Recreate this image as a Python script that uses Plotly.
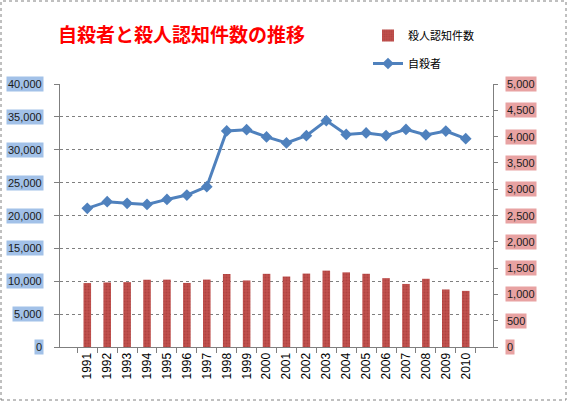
import plotly.graph_objects as go

# ---- data ------------------------------------------------------------
YEARS = [str(y) for y in range(1991, 2011)]
SUICIDES = [21084, 22104, 21851, 21679, 22445, 23104, 24391, 32863, 33048, 31957,
            31042, 32143, 34427, 32325, 32552, 32155, 33093, 32249, 32845, 31690]
HOMICIDES = [1215, 1227, 1233, 1279, 1281, 1218, 1282, 1388, 1265, 1391,
             1340, 1396, 1452, 1419, 1392, 1309, 1199, 1297, 1094, 1067]
LEFT_TICKS = [0, 5000, 10000, 15000, 20000, 25000, 30000, 35000, 40000]
RIGHT_TICKS = [0, 500, 1000, 1500, 2000, 2500, 3000, 3500, 4000, 4500, 5000]

TITLE = "自殺者と殺人認知件数の推移"
BAR_NAME = "殺人認知件数"
LINE_NAME = "自殺者"

# ---- style -----------------------------------------------------------
BAR_RED = "#C0504D"
LINE_BLUE = "#4F81BD"
GRID = "#7F7F7F"
LEFT_BG = "#A2C1E8"
RIGHT_BG = "#E8A2A2"
NUM_FONT = "Liberation Sans"
JP_FONT = "Noto Sans CJK JP"

W, H = 568, 402
L, R, T, B = 60, 75, 84, 55
PW, PH = W - L - R, H - T - B

fig = go.Figure()

fig.add_trace(go.Bar(
    x=YEARS, y=HOMICIDES, name=BAR_NAME, yaxis="y2",
    width=0.38,
    marker=dict(color=BAR_RED, line=dict(width=0),
                pattern=dict(shape=".", fgcolor="#9E3533", bgcolor=BAR_RED,
                             size=3, solidity=0.35)),
    legendgroup="a",
))
fig.add_trace(go.Scatter(
    x=YEARS, y=SUICIDES, name=LINE_NAME, mode="lines+markers",
    line=dict(color=LINE_BLUE, width=3),
    marker=dict(symbol="diamond", size=9, color=LINE_BLUE),
    legendgroup="b",
))

# tick labels with coloured boxes, placed on the axis scales
annos = []
for v in LEFT_TICKS:
    annos.append(dict(x=0, xref="paper", y=v, yref="y", text=f"{v:,}",
                      xanchor="right", yanchor="middle", xshift=-16,
                      showarrow=False, bgcolor=LEFT_BG, borderpad=1,
                      font=dict(family=NUM_FONT, size=11, color="#1a1a1a")))
for v in RIGHT_TICKS:
    annos.append(dict(x=1, xref="paper", y=v, yref="y2", text=f"{v:,}",
                      xanchor="left", yanchor="middle", xshift=12,
                      showarrow=False, bgcolor=RIGHT_BG, borderpad=1,
                      font=dict(family=NUM_FONT, size=11, color="#1a1a1a")))

# title
annos.append(dict(x=(56 - L) / PW, xref="paper", y=(H - B - 33) / PH, yref="paper",
                  text=f"<b>{TITLE}</b>", xanchor="left", yanchor="middle",
                  showarrow=False, font=dict(family=JP_FONT, size=19, color="#FF0000")))

fig.update_layout(
    width=W, height=H,
    margin=dict(l=L, r=R, t=T, b=B),
    paper_bgcolor="white", plot_bgcolor="white",
    annotations=annos,
    showlegend=True,
    legend=dict(x=(368 - L) / PW, y=(H - B - 21) / PH, xanchor="left", yanchor="top",
                bgcolor="rgba(0,0,0,0)", tracegroupgap=9,
                font=dict(family=JP_FONT, size=11, color="#000")),
    xaxis=dict(type="category", tickangle=-90, tickson="boundaries",
               ticks="outside", ticklen=5, tickcolor=GRID,
               showline=True, linecolor=GRID, linewidth=1,
               showgrid=False, tickfont=dict(family=NUM_FONT, size=12, color="#000")),
    yaxis=dict(range=[0, 40000], tickvals=LEFT_TICKS, showticklabels=False,
               ticks="outside", ticklen=5, tickcolor=GRID,
               showline=True, linecolor=GRID, linewidth=1,
               showgrid=True, gridcolor=GRID, griddash="dot", gridwidth=1,
               zeroline=False),
    yaxis2=dict(range=[0, 5000], tickvals=RIGHT_TICKS, showticklabels=False,
                overlaying="y", side="right",
                ticks="outside", ticklen=4, tickcolor=GRID,
                showline=True, linecolor=GRID, linewidth=1,
                showgrid=False, zeroline=False),
    font=dict(family=JP_FONT),
)

# dotted frame round the whole chart
fig.add_shape(type="rect", xref="paper", yref="paper",
              x0=(1 - L) / PW, x1=(W - 2 - L) / PW,
              y0=(H - B - (H - 2)) / PH, y1=(H - B - 1) / PH,
              line=dict(color="#808080", width=1, dash="dot"),
              fillcolor="rgba(0,0,0,0)", layer="below")

# page body has a default margin; drop it so the chart fills the window
fig.write_html("out.html", config={"displayModeBar": False},
               post_script="document.body.style.margin='0';document.body.style.overflow='hidden';")
